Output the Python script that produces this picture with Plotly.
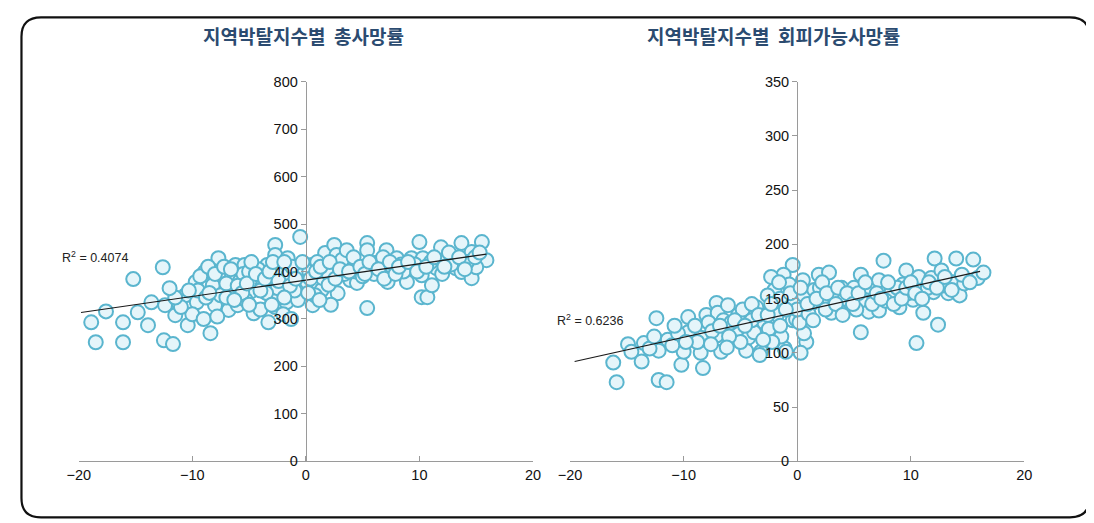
import numpy as np
import plotly.graph_objects as go

W, H = 1094, 523

# ---- data ----
left_x = [-18.9,-18.5,-17.6,-16.1,-16.1,-15.2,-14.8,-13.9,-13.6,-12.6,-12.5,-12.4,-11.7,-11.5,-11.2,-10.6,-10.4,-9.6,-9.7,-8.9,
          -8.4,-8.2,-8.0,-7.7,-7.4,-6.8,-6.8,-6.5,-6.2,-6.0,-5.4,-4.9,-4.6,-3.9,-3.4,-3.3,-3.0,-2.7,-2.7,-2.7,
          -2.5,-2.0,-1.7,-1.6,-0.5,-0.4,-0.7,-0.7,0.1,0.5,0.6,1.4,1.5,1.7,2.4,2.5,2.7,2.8,2.8,4.0,
          3.9,4.5,5.4,5.4,5.4,6.1,6.5,7.1,7.1,7.2,8.0,8.9,9.3,9.3,10.0,10.3,10.2,10.2,10.7,11.1,
          11.5,11.9,12.4,13.2,13.7,13.7,14.6,14.6,15.5,15.9,15.0,
          -9.5,-8.8,-7.5,-7.0,-5.8,-5.5,-5.0,-4.5,-4.2,-3.8,-3.5,-2.2,-1.5,-1.2,-1.0,-0.2,0.3,0.8,1.0,1.8,
          2.0,3.2,3.4,3.6,4.4,5.0,5.8,6.0,6.8,7.6,8.4,8.6,9.6,11.0,12.0,12.8,14.2,-10.0,-11.0,-9.0,
          -7.8,-5.3,-4.0,-2.0,-1.3,2.2,
          -9.3,-8.6,-8.0,-7.2,-6.6,-6.0,-5.6,-5.2,-4.8,-4.4,-4.0,-3.6,-3.2,-2.9,-2.4,-1.9,-1.4,-0.9,-0.3,0.4,
          0.9,1.3,2.1,2.6,3.0,3.8,4.2,4.8,5.2,5.6,6.4,6.9,7.4,7.9,8.2,9.0,9.8,10.6,11.3,12.2,
          12.6,13.5,14.0,14.9,15.3,-7.0,-6.3,-5.0,-3.0,-1.9,0.2,1.2,-8.5,-10.3,-11.5,-12.0]
left_y = [293,251,316,293,251,384,314,287,335,409,255,329,247,308,333,350,287,335,378,399,
          270,371,329,428,392,357,319,392,414,329,414,357,312,392,414,293,344,456,435,325,
          365,388,335,428,473,407,340,371,378,414,329,361,386,439,409,456,435,392,354,414,
          382,376,460,445,323,418,420,445,399,378,428,378,428,407,462,428,392,346,346,371,
          407,451,428,407,460,399,441,386,462,424,409,
          360,345,350,375,380,395,400,380,405,370,355,400,395,410,360,395,400,350,420,400,
          372,425,395,445,400,390,410,395,430,410,415,400,415,420,395,415,420,310,325,300,
          305,340,320,310,300,330,
          390,410,395,410,405,370,355,375,420,395,360,385,400,420,380,420,370,385,420,385,
          400,410,420,385,405,400,430,410,395,420,405,385,420,395,410,420,400,410,430,410,
          440,430,405,430,440,345,340,330,330,345,355,340,355,360,345,365]

right_x = [-16.2,-15.9,-14.9,-14.6,-13.7,-13.5,-12.4,-12.2,-11.5,-12.2,-11.4,-10.2,-10.0,-9.6,-9.6,-8.5,-8.3,-8.5,-8.0,-7.1,
           -7.0,-7.1,-6.7,-6.3,-6.1,-5.2,-5.4,-4.3,-4.5,-3.8,-3.6,-3.2,-2.9,-3.3,-2.1,-1.7,-1.1,-0.8,-0.4,-0.4,
           -1.2,-0.7,-2.0,-2.6,-1.4,-1.0,-0.1,0.8,0.6,0.2,-0.3,0.6,0.5,1.9,2.8,2.4,3.9,3.9,3.0,4.6,
           5.6,6.3,5.9,6.3,5.6,7.2,7.6,7.2,8.3,9.0,9.3,9.6,10.2,10.7,11.1,10.5,11.8,12.0,12.1,12.4,
           12.7,13.3,13.7,14.0,14.3,14.7,15.5,15.9,16.4,
           -9.0,-7.8,-6.5,-5.8,-4.8,-4.0,-2.5,-1.8,-1.5,0.0,1.2,1.5,2.0,3.2,4.2,5.0,5.2,6.8,7.8,8.8,
           9.8,11.5,12.8,-11.0,-10.5,-5.0,-2.2,0.3,1.0,2.5,-2.3,-1.6,
           -8.8,-7.5,-6.8,-6.0,-5.5,-4.6,-4.0,-3.4,-3.0,-2.6,-2.3,-1.5,-1.0,-0.6,0.3,0.9,1.4,1.7,2.2,2.6,
           3.4,3.6,4.0,4.4,4.9,5.4,6.0,6.6,7.0,7.4,8.0,8.5,9.2,9.6,10.0,10.4,11.0,11.6,12.3,13.0,
           13.6,14.5,15.2,-10.8,-9.8,-7.6,-6.2,-13.0,-12.6]
right_y = [91,73,108,101,92,109,132,75,73,102,112,89,101,133,119,100,86,114,135,146,
           137,116,101,124,144,135,119,114,102,119,142,101,128,98,138,116,104,146,130,181,
           172,163,158,153,115,101,131,110,118,128,146,153,167,172,174,151,160,142,137,147,
           172,161,147,138,119,167,185,139,156,142,163,176,149,170,137,109,169,156,187,126,
           176,155,165,187,153,164,186,169,174,
           125,128,130,128,140,130,122,135,150,140,145,158,160,152,150,160,140,150,148,160,
           155,160,162,107,118,110,110,100,136,140,170,165,
           110,120,125,115,130,125,145,135,112,135,145,125,140,155,160,145,130,150,165,155,
           145,160,135,155,145,155,165,145,155,150,165,145,150,160,165,155,150,165,160,170,
           158,172,165,125,110,108,105,104,115]

# trend lines: slope, intercept, x extent
left_trend = dict(slope=3.45, intercept=382, x0=-19.8, x1=15.9)
right_trend = dict(slope=2.33, intercept=137.7, x0=-19.6, x1=16.1)

titles = ["지역박탈지수별  총사망률", "지역박탈지수별  회피가능사망률"]
r2_labels = ["R<sup>2</sup> = 0.4074", "R<sup>2</sup> = 0.6236"]
x_ticks = [-20, -10, 0, 10, 20]
left_y_ticks = [0, 100, 200, 300, 400, 500, 600, 700, 800]
right_y_ticks = [0, 50, 100, 150, 200, 250, 300, 350]

# ---- geometry: target picture pixels -> paper fractions ----
# (calibrated: picture = A + B * page, page = figure + 8px body margin)
AX, BX, AY, BY, M = 13.6, 0.979, 8.6, 0.968, 8

def px(t):
    return ((t - AX) / BX - M) / W

def py(t):
    return 1 - ((t - AY) / BY - M) / H

dom_l = [px(80), px(533)]
dom_r = [px(570), px(1023)]
dom_y = [py(461), py(82)]

fill = "#e5f5fa"
edge = "#5ab5ce"
marker = dict(size=14, color=fill, line=dict(color=edge, width=2))

fig = go.Figure()
fig.add_trace(go.Scatter(x=left_x, y=left_y, mode="markers", marker=marker,
                         xaxis="x", yaxis="y", showlegend=False, cliponaxis=False))
fig.add_trace(go.Scatter(x=right_x, y=right_y, mode="markers", marker=marker,
                         xaxis="x2", yaxis="y2", showlegend=False, cliponaxis=False))

for t, xa, ya in [(left_trend, "x", "y"), (right_trend, "x2", "y2")]:
    xs = np.array([t["x0"], t["x1"]])
    fig.add_trace(go.Scatter(x=xs, y=t["slope"] * xs + t["intercept"], mode="lines",
                             line=dict(color="#1a1a1a", width=1.2), xaxis=xa, yaxis=ya,
                             showlegend=False, cliponaxis=False))

axis_font = dict(family="Liberation Sans, Arial, sans-serif", size=14.5, color="#111")
common_x = dict(range=[-20, 20], tickvals=x_ticks, showgrid=False, zeroline=False,
                showline=True, linecolor="#9a9a9a", linewidth=1.3, ticks="inside",
                ticklen=5, tickcolor="#9a9a9a", tickfont=axis_font, fixedrange=True)
common_y = dict(showgrid=False, zeroline=False, showline=True, linecolor="#9a9a9a",
                linewidth=1.3, ticks="outside", ticklen=5, tickcolor="#9a9a9a",
                tickfont=axis_font, fixedrange=True, anchor="free")

fig.update_layout(
    width=W, height=H,
    margin=dict(l=0, r=0, t=0, b=0),
    paper_bgcolor="white", plot_bgcolor="rgba(0,0,0,0)",
    xaxis=dict(domain=dom_l, anchor="y", **common_x),
    xaxis2=dict(domain=dom_r, anchor="y2", **common_x),
    yaxis=dict(domain=dom_y, range=[0, 800], tickvals=left_y_ticks,
               position=(dom_l[0] + dom_l[1]) / 2, **common_y),
    yaxis2=dict(domain=dom_y, range=[0, 350], tickvals=right_y_ticks,
                position=(dom_r[0] + dom_r[1]) / 2, **common_y),
)

title_font = dict(family="Noto Sans CJK KR, sans-serif", size=19, color="#2b4b70")
for txt, cx in zip(titles, [304, 773]):
    fig.add_annotation(text="<b>" + txt + "</b>", x=px(cx), y=py(36), xref="paper", yref="paper",
                       showarrow=False, font=title_font, xanchor="center", yanchor="middle")

r2_font = dict(family="Liberation Sans, Arial, sans-serif", size=12.5, color="#222")
fig.add_annotation(text=r2_labels[0], x=px(61), y=py(257), xref="paper", yref="paper",
                   showarrow=False, font=r2_font, xanchor="left", yanchor="middle")
fig.add_annotation(text=r2_labels[1], x=px(555), y=py(320), xref="paper", yref="paper",
                   showarrow=False, font=r2_font, xanchor="left", yanchor="middle")

# rounded frame
def cx_(t):
    return min(max(px(t), 1.5 / W), 1 - 1.5 / W)

def cy_(t):
    return min(max(py(t), 1.5 / H), 1 - 1.5 / H)

x0, y0, x1, y1 = cx_(5), cy_(5), cx_(1088), cy_(517)
rx, ry = 20 / W, 20 / H
path = (f"M {x0+rx},{y0} L {x1-rx},{y0} Q {x1},{y0} {x1},{y0-ry} "
        f"L {x1},{y1+ry} Q {x1},{y1} {x1-rx},{y1} "
        f"L {x0+rx},{y1} Q {x0},{y1} {x0},{y1+ry} "
        f"L {x0},{y0-ry} Q {x0},{y0} {x0+rx},{y0} Z")
fig.add_shape(type="path", path=path, xref="paper", yref="paper",
              line=dict(color="#111", width=2.2))

fig.write_html("out.html")
